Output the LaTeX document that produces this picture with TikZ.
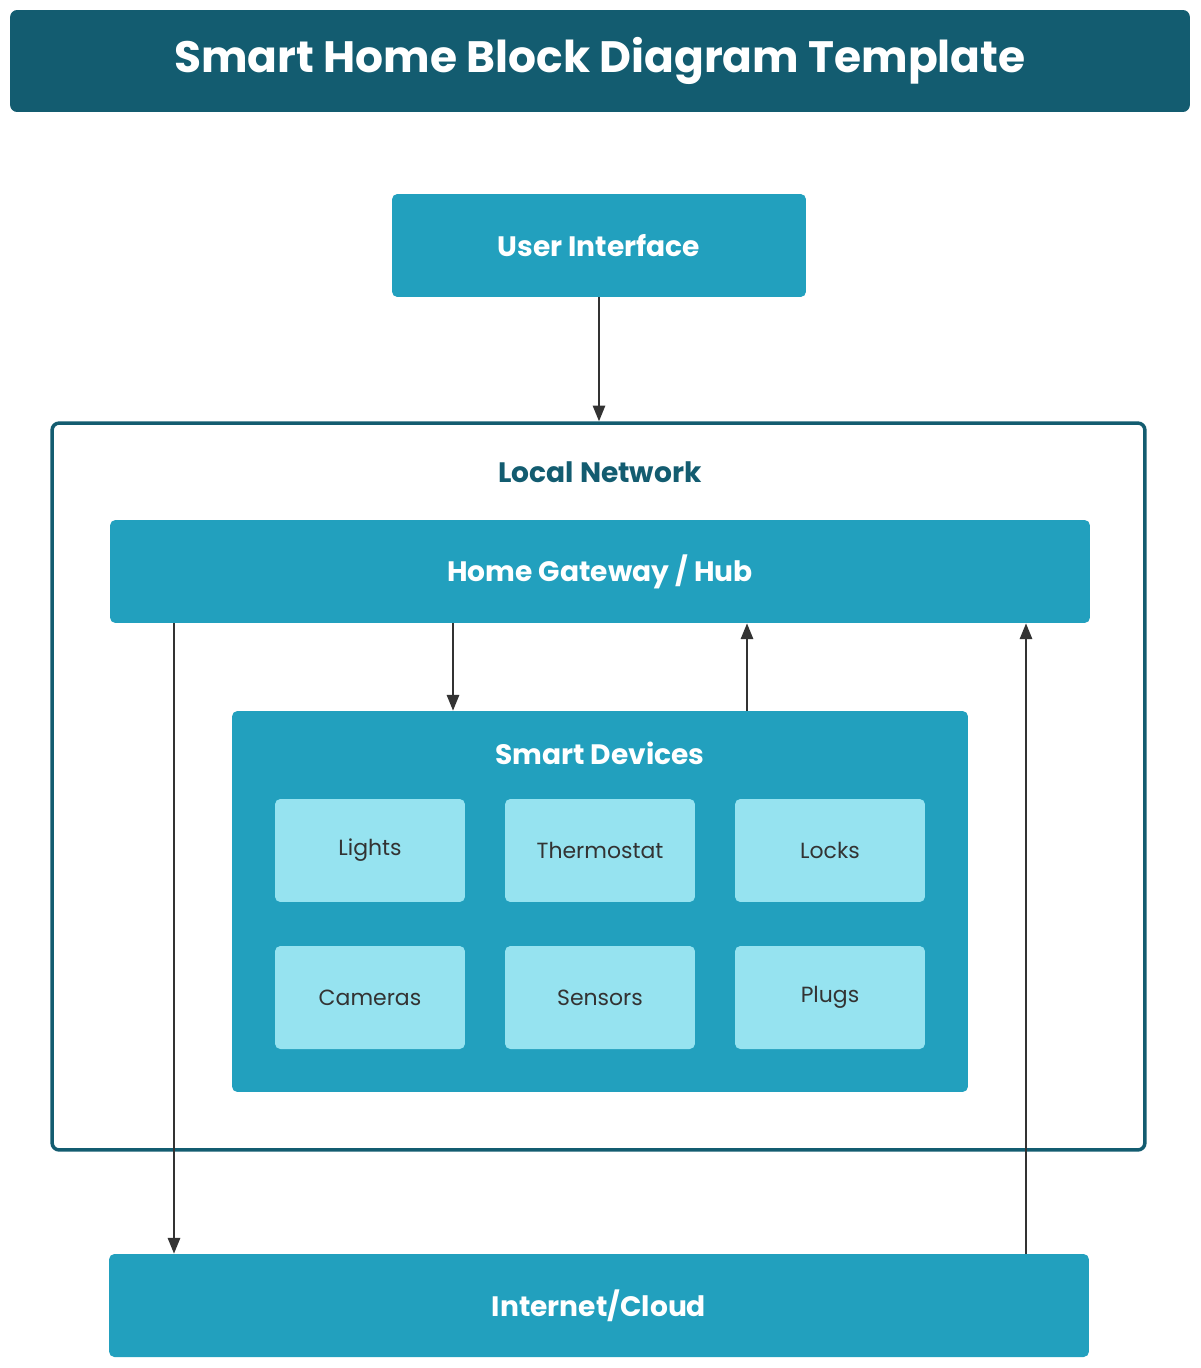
\documentclass[tikz,border=0pt]{standalone}
\usepackage{fontspec}
\setmainfont{Poppins}
\usetikzlibrary{arrows.meta}
\definecolor{darkteal}{HTML}{135C70}
\definecolor{midteal}{HTML}{22A0BE}
\definecolor{lightteal}{HTML}{96E3F0}
\definecolor{linegray}{HTML}{333333}
\begin{document}
\begin{tikzpicture}[x=0.02cm,y=-0.02cm]
	\tikzstyle{block} = [rectangle, rounded corners=3pt, fill=midteal, text=white,
	font=\fontsize{16}{18}\selectfont\bfseries, minimum height=2.06cm]
	\tikzstyle{device} = [rectangle, rounded corners=3pt, fill=lightteal, text=black!80,
	font=\fontsize{12.5}{14}\selectfont, minimum width=3.8cm, minimum height=2.06cm]
	\tikzstyle{arrow} = [line width=1.2pt, draw=linegray, -{Triangle[length=9pt,width=7pt]}]
	\useasboundingbox (0,0) rectangle (1200,1368);
	\node (title) [rectangle, rounded corners=4pt, fill=darkteal, text=white,
	minimum width=23.6cm, minimum height=2.04cm,
	font=\fontsize{25}{28}\selectfont\bfseries] at (600,61) {Smart Home Block Diagram Template};
	\node (ui) [block, minimum width=8.28cm] at (599,245.5) {User Interface};
	\node (frame) [rectangle, rounded corners=4pt, draw=darkteal, line width=2pt,
	minimum width=21.86cm, minimum height=14.54cm] at (598.5,786.5) {};
	\node (lanlabel) [text=darkteal, font=\fontsize{16}{18}\selectfont\bfseries] at (600,472) {Local Network};
	\node (hub) [block, minimum width=19.6cm] at (600,571.5) {Home Gateway / Hub};
	\node (sd) [rectangle, rounded corners=3pt, fill=midteal, minimum width=14.72cm,
	minimum height=7.62cm] at (600,901.5) {};
	\node (sdlabel) [text=white, font=\fontsize{16}{18}\selectfont\bfseries] at (600,753) {Smart Devices};
	\node (lights) [device] at (370,850.5) {Lights};
	\node (thermo) [device] at (600,850.5) {Thermostat};
	\node (locks) [device] at (830,850.5) {Locks};
	\node (cameras) [device] at (370,997.5) {Cameras};
	\node (sensors) [device] at (600,997.5) {Sensors};
	\node (plugs) [device] at (830,997.5) {Plugs};
	\node (net) [block, minimum width=19.6cm] at (599,1305.5) {Internet/Cloud};
	\draw [arrow] (ui.south) -- (ui.south |- frame.north);
	\draw [arrow] (hub.south -| 453,0) -- (sd.north -| 453,0);
	\draw [arrow] (sd.north -| 747,0) -- (hub.south -| 747,0);
	\draw [arrow] (hub.south -| 174,0) -- (net.north -| 174,0);
	\draw [arrow] (net.north -| 1026,0) -- (hub.south -| 1026,0);
\end{tikzpicture}
\end{document}
